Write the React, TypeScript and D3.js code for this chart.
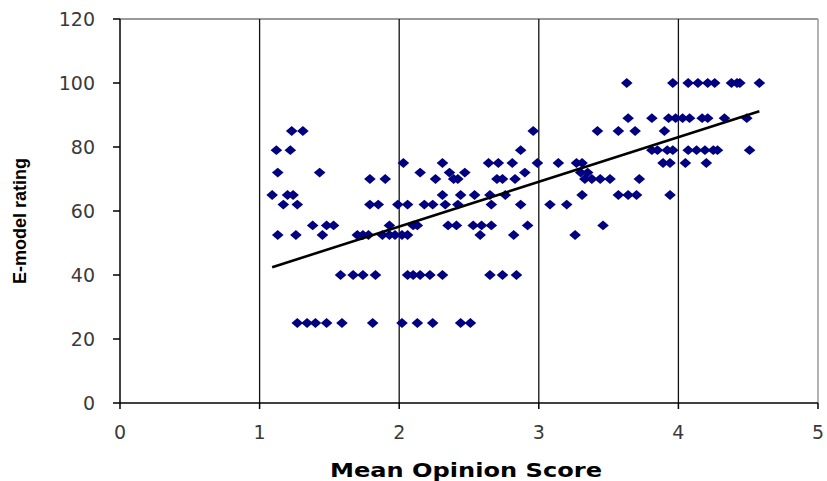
import React, { useMemo } from 'react';
import { scaleLinear, extent, line } from 'd3';

// E-model rating levels seen in the scatter, and the MOS values sitting on each level
const ratingLevels = [100, 89, 85, 79, 75, 72, 70, 65, 62, 55.5, 52.5, 40, 25];

const mosAtLevel: number[][] = [
    [3.63, 3.96, 4.07, 4.14, 4.21, 4.26, 4.38, 4.42, 4.44, 4.58],
    [3.64, 3.81, 3.93, 3.98, 4.03, 4.08, 4.17, 4.21, 4.33, 4.49],
    [1.23, 1.31, 2.96, 3.42, 3.57, 3.69, 3.90],
    [1.12, 1.22, 2.87, 3.81, 3.85, 3.92, 3.96, 4.07, 4.13, 4.19, 4.25, 4.28, 4.51],
    [2.03, 2.31, 2.64, 2.71, 2.81, 2.99, 3.14, 3.27, 3.31, 3.89, 3.94, 4.05, 4.20],
    [1.13, 1.43, 2.15, 2.36, 2.47, 2.90, 3.30, 3.35],
    [1.79, 1.90, 2.26, 2.39, 2.42, 2.70, 2.74, 2.83, 3.33, 3.38, 3.44, 3.51, 3.72],
    [1.09, 1.20, 1.24, 2.31, 2.44, 2.54, 2.65, 2.76, 3.31, 3.57, 3.64, 3.70, 3.94],
    [1.17, 1.27, 1.79, 1.85, 1.99, 2.06, 2.18, 2.24, 2.33, 2.42, 2.66, 2.87, 3.08, 3.20],
    [1.38, 1.48, 1.53, 1.93, 2.10, 2.13, 2.35, 2.41, 2.53, 2.59, 2.66, 2.92, 3.46],
    [1.13, 1.26, 1.45, 1.70, 1.74, 1.78, 1.88, 1.93, 1.97, 2.02, 2.06, 2.58, 2.82, 3.26],
    [1.58, 1.67, 1.74, 1.83, 2.06, 2.10, 2.15, 2.22, 2.31, 2.65, 2.74, 2.84],
    [1.27, 1.34, 1.40, 1.48, 1.59, 1.81, 2.02, 2.13, 2.24, 2.44, 2.51],
];

// linear trendline
const trendSlope = 13.97;
const trendIntercept = 27.2;

const xTicks = [0, 1, 2, 3, 4, 5];
const yTicks = [0, 20, 40, 60, 80, 100, 120];
const gridX = [1, 2, 3, 4];

const App: React.FC = () => {
    const width = 827;
    const height = 481;
    const plot = { left: 120, right: 818, top: 19, bottom: 403 };

    const points = useMemo(
        () => ratingLevels.flatMap((r, i) => mosAtLevel[i].map(m => ({ mos: m, rating: r }))),
        []
    );

    const xScale = scaleLinear().domain([0, 5]).range([plot.left, plot.right]);
    const yScale = scaleLinear().domain([0, 120]).range([plot.bottom, plot.top]);

    const [minMos, maxMos] = extent(points, d => d.mos) as [number, number];
    const trendPath = line<number>()
        .x(d => xScale(d))
        .y(d => yScale(trendIntercept + trendSlope * d))([minMos, maxMos]) || '';

    const diamond = 'M0,-4.9L5.8,0L0,4.9L-5.8,0Z';
    const tickFont = '"DejaVu Sans", sans-serif';

    return (
        <svg width={width} height={height} style={{ position: 'absolute', left: 0, top: 0, background: '#fff' }}>
            <rect width={width} height={height} fill="#fff" />

            {/* frame: top and right in grey */}
            <line x1={plot.left} x2={plot.right} y1={plot.top} y2={plot.top} stroke="#777" strokeWidth={1.5} />
            <line x1={plot.right} x2={plot.right} y1={plot.top} y2={plot.bottom} stroke="#999" strokeWidth={1.5} />

            {/* vertical gridlines */}
            {gridX.map(v => (
                <line key={v} x1={xScale(v)} x2={xScale(v)} y1={plot.top} y2={plot.bottom} stroke="#111" strokeWidth={1.3} />
            ))}

            {/* points */}
            <g fill="#000080">
                {points.map((p, i) => (
                    <path key={i} d={diamond} transform={`translate(${xScale(p.mos)},${yScale(p.rating)})`} />
                ))}
            </g>

            {/* trendline */}
            <path d={trendPath} stroke="#000" strokeWidth={2.6} fill="none" />

            {/* y axis */}
            <line x1={plot.left} x2={plot.left} y1={plot.top} y2={plot.bottom} stroke="#000" strokeWidth={1.5} />
            {yTicks.map(v => (
                <g key={v}>
                    <line x1={plot.left - 7} x2={plot.left} y1={yScale(v)} y2={yScale(v)} stroke="#000" strokeWidth={1.5} />
                    <text x={95} y={yScale(v)} dy="0.36em" textAnchor="end" fontFamily={tickFont} fontSize={19} fill="#3a3a3a">
                        {v}
                    </text>
                </g>
            ))}

            {/* x axis */}
            <line x1={plot.left} x2={plot.right} y1={plot.bottom} y2={plot.bottom} stroke="#000" strokeWidth={1.5} />
            {xTicks.map(v => (
                <g key={v}>
                    <line x1={xScale(v)} x2={xScale(v)} y1={plot.bottom} y2={plot.bottom + 6} stroke="#000" strokeWidth={1.5} />
                    <text x={xScale(v)} y={439} textAnchor="middle" fontFamily={tickFont} fontSize={19} fill="#3a3a3a">
                        {v}
                    </text>
                </g>
            ))}

            {/* axis titles */}
            <text
                x={466}
                y={477}
                textAnchor="middle"
                fontFamily='"DejaVu Sans", Verdana, sans-serif'
                fontWeight="bold"
                fontSize={20}
                textLength={272}
                lengthAdjust="spacingAndGlyphs"
                fill="#000"
            >
                Mean Opinion Score
            </text>
            <text
                transform="translate(26,221) rotate(-90)"
                textAnchor="middle"
                fontFamily='"Liberation Sans Narrow", "Liberation Sans", Arial, sans-serif'
                fontWeight="bold"
                fontSize={18}
                fill="#000"
            >
                E-model rating
            </text>
        </svg>
    );
};

export default App;
